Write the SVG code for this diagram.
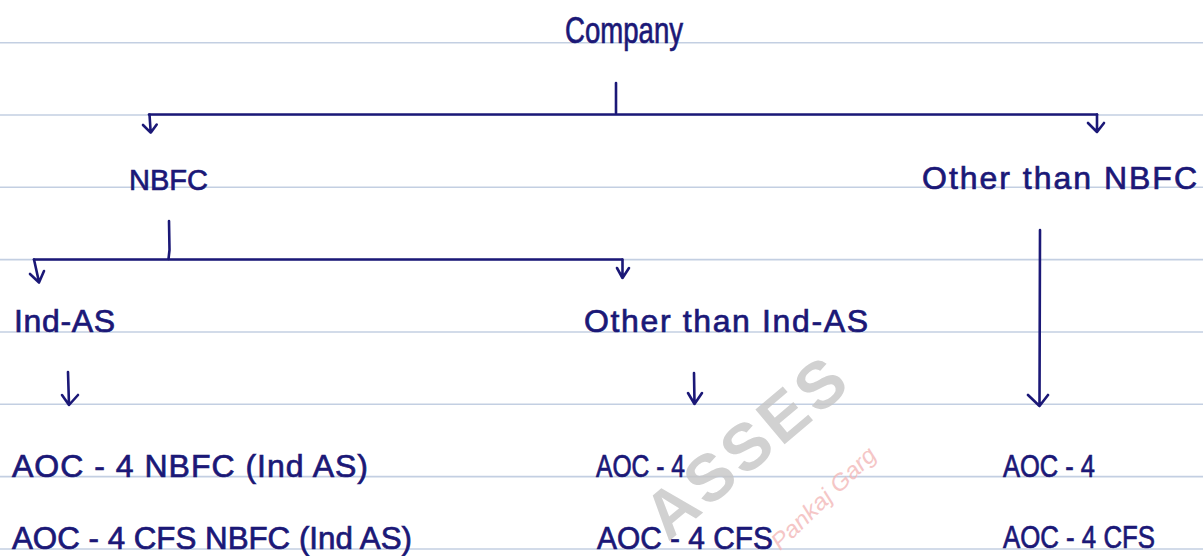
<svg xmlns="http://www.w3.org/2000/svg" width="1203" height="556" viewBox="0 0 1203 556">
<style>
.rule{stroke:#c3cfe2;stroke-width:1.6}
.ink{font-family:"Liberation Sans",Arial,sans-serif;fill:#1b1877;stroke:#1b1877;stroke-width:0.7}
.c{fill:none;stroke:#1b1877;stroke-width:2.6;stroke-linecap:round;stroke-linejoin:round}
.wm{font-family:"Liberation Sans",Arial,sans-serif;font-weight:bold;fill:#c6c6c6;opacity:0.8}
.wm2{font-family:"Liberation Sans",Arial,sans-serif;font-style:italic;fill:#f3b8b8;opacity:0.8}
</style>
<rect width="1203" height="556" fill="#ffffff"/>
<g id="rules">
<line class="rule" x1="0" y1="42.7" x2="1203" y2="42.7"/>
<line class="rule" x1="0" y1="115" x2="1203" y2="115"/>
<line class="rule" x1="0" y1="187.3" x2="1203" y2="187.3"/>
<line class="rule" x1="0" y1="259.6" x2="1203" y2="259.6"/>
<line class="rule" x1="0" y1="332" x2="1203" y2="332"/>
<line class="rule" x1="0" y1="404.3" x2="1203" y2="404.3"/>
<line class="rule" x1="0" y1="476.6" x2="1203" y2="476.6"/>
<line class="rule" x1="0" y1="549" x2="1203" y2="549"/>
</g>
<g id="watermark">
<text class="wm" x="668" y="542" font-size="66" letter-spacing="4" transform="rotate(-40 668 542)">ASSES</text>
<text class="wm2" x="780" y="551" font-size="23" textLength="136" lengthAdjust="spacingAndGlyphs" transform="rotate(-44 780 551)">Pankaj Garg</text>
</g>
<g id="connectors">
<path class="c" d="M616 83 L616 113"/>
<path class="c" d="M149 114.5 L1097 114.5"/>
<path class="c" d="M149.5 114.5 L150.7 132.5 M143 125 L150.7 132.7 L156.7 124.5"/>
<path class="c" d="M1097 114.5 L1097 132 M1088 123 L1097 132 L1104 123"/>
<path class="c" d="M169 221 L169.5 250 L168.5 259"/>
<path class="c" d="M34 259.5 L622 259.5"/>
<path class="c" d="M34 259.5 L39 282 M30 274 L39 282.5 L44 271"/>
<path class="c" d="M622.5 259.5 L622.5 278 M617 268 L622.5 278 L629 268"/>
<path class="c" d="M68 372 L69 405 M62 395 L69 405 L78 395"/>
<path class="c" d="M694 373 L694.5 404 M688 393 L694.5 404 L702 393"/>
<path class="c" d="M1040 230 L1039.5 406 M1028 395 L1039.5 406 L1048 395"/>
</g>
<g id="node-company"><text class="ink" x="565" y="43" font-size="36" textLength="118" lengthAdjust="spacingAndGlyphs">Company</text></g>
<g id="node-nbfc"><text class="ink" x="129" y="190" font-size="30" textLength="79" lengthAdjust="spacingAndGlyphs">NBFC</text></g>
<g id="node-other-nbfc"><text class="ink" x="922" y="189" font-size="32" textLength="275" lengthAdjust="spacing">Other than NBFC</text></g>
<g id="node-ind-as"><text class="ink" x="14" y="332" font-size="32" textLength="101" lengthAdjust="spacing">Ind-AS</text></g>
<g id="node-other-ind-as"><text class="ink" x="584" y="332" font-size="32" textLength="284" lengthAdjust="spacing">Other than Ind-AS</text></g>
<g id="node-ind-as-forms">
<text class="ink" x="12" y="477" font-size="32" textLength="356" lengthAdjust="spacing">AOC - 4 NBFC (Ind AS)</text>
<text class="ink" x="12" y="549" font-size="31" textLength="400" lengthAdjust="spacingAndGlyphs">AOC - 4 CFS NBFC (Ind AS)</text>
</g>
<g id="node-other-ind-as-forms">
<text class="ink" x="596" y="477" font-size="32" textLength="89" lengthAdjust="spacingAndGlyphs">AOC - 4</text>
<text class="ink" x="597" y="549" font-size="32" textLength="176" lengthAdjust="spacingAndGlyphs">AOC - 4 CFS</text>
</g>
<g id="node-other-nbfc-forms">
<text class="ink" x="1003" y="477" font-size="32" textLength="92" lengthAdjust="spacingAndGlyphs">AOC - 4</text>
<text class="ink" x="1003" y="548" font-size="32" textLength="152" lengthAdjust="spacingAndGlyphs">AOC - 4 CFS</text>
</g>
</svg>
